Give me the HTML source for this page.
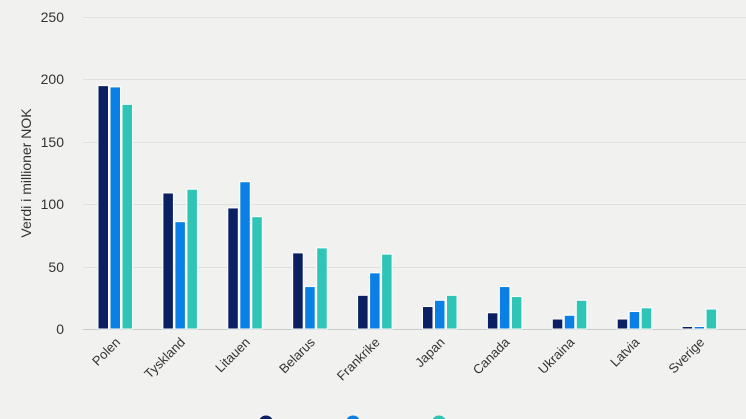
<!DOCTYPE html><html><head><style>body{margin:0;background:#f1f2f0}svg{display:block;font-family:"Liberation Sans",sans-serif}</style></head><body>
<svg width="746" height="419" viewBox="0 0 746 419">
<rect width="746" height="419" fill="#f1f2f0"/>
<g stroke="#dfe1df" stroke-width="1">
<line x1="83" x2="746" y1="17.5" y2="17.5"/><line x1="83" x2="746" y1="79.5" y2="79.5"/><line x1="83" x2="746" y1="142.5" y2="142.5"/><line x1="83" x2="746" y1="204.5" y2="204.5"/><line x1="83" x2="746" y1="267.5" y2="267.5"/></g>
<line x1="83" x2="746" y1="329.5" y2="329.5" stroke="#c9ccc9"/>
<g font-size="14" fill="#333" text-anchor="end">
<text x="64" y="22">250</text><text x="64" y="84">200</text><text x="64" y="147">150</text><text x="64" y="209">100</text><text x="64" y="272">50</text><text x="64" y="334">0</text></g>
<text transform="translate(31,173) rotate(-90)" font-size="14" fill="#333" text-anchor="middle">Verdi i millioner NOK</text>
<g id="bars" stroke="#fff" stroke-width="1"></g>
<g id="labels" font-size="13" fill="#333" text-anchor="end"></g>
<g font-size="14" fill="#333">
<circle cx="266" cy="423" r="7.5" fill="#0b1f63"/><text x="280" y="429">2023</text>
<circle cx="353" cy="423" r="7.5" fill="#0a80e6"/><text x="367" y="429">2024</text>
<circle cx="439" cy="423" r="7.5" fill="#2ec4b6"/><text x="453" y="429">2025</text></g>
</svg>
<script>
var d=[["Polen",195,194,180],["Tyskland",109,86,112],["Litauen",97,118,90],["Belarus",61,34,65],["Frankrike",27,45,60],["Japan",18,23,27],["Canada",13,34,26],["Ukraina",8,11,23],["Latvia",8,14,17],["Sverige",2,2,16]];
var c=["#0b1f63","#0a80e6","#2ec4b6"],b="",l="";
d.forEach(function(r,i){var x0=98+i*64.9;for(var k=0;k<3;k++){var h=r[k+1]*1.248;b+='<rect x="'+(x0+k*12)+'" y="'+(329-h)+'" width="10.5" height="'+h+'" fill="'+c[k]+'"/>';}
var cx=x0+20;l+='<text transform="translate('+(cx+3)+',343) rotate(-45)">'+r[0]+'</text>';});
document.getElementById("bars").innerHTML=b;document.getElementById("labels").innerHTML=l;
</script>
</body></html>
